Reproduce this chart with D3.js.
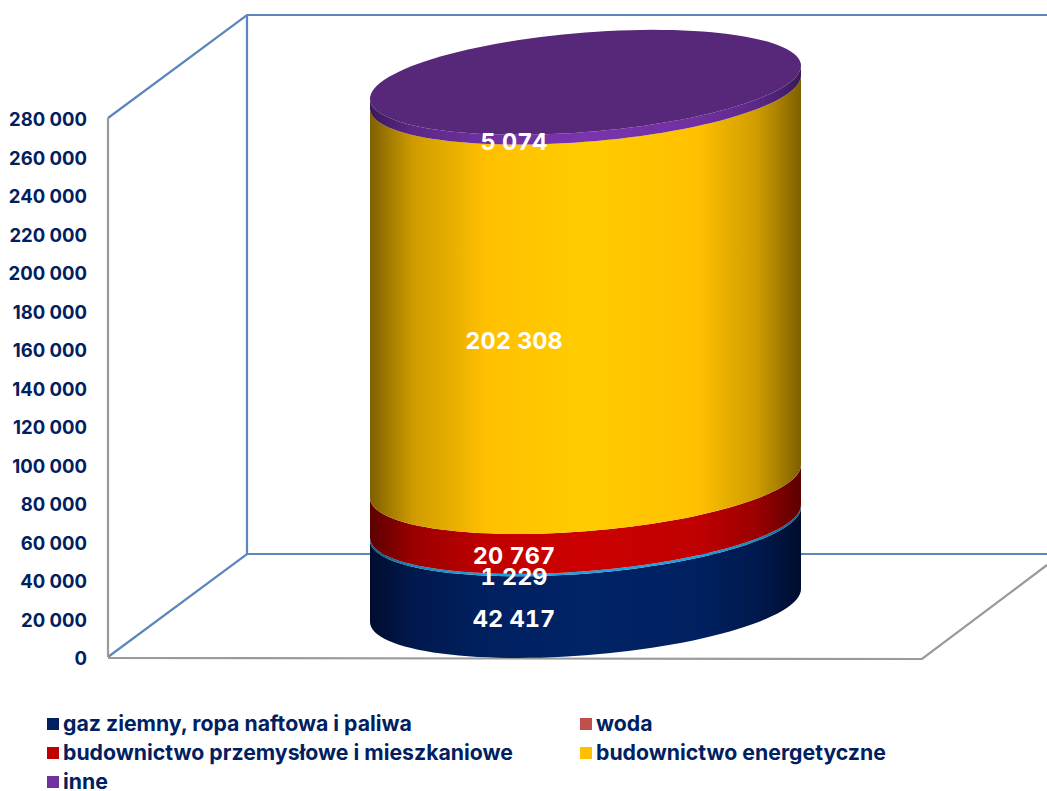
<!DOCTYPE html>
<html lang="pl">
<head>
<meta charset="utf-8">
<title>Struktura zamówień</title>
<script src="https://d3js.org/d3.v7.min.js"></script>
<style>
  body { margin: 0; background: white; }
  svg { display: block; }
  text { font-family: Inter, Lato, sans-serif; font-weight: 700; }
  .tick text { fill: #002060; font-size: 18.5px; }
  .value { fill: white; font-size: 23.5px; text-anchor: middle; font-variant-numeric: tabular-nums; }
  .legend { fill: #002060; font-size: 21.25px; }
  .wall { stroke: #5b87bd; stroke-width: 2.2; fill: none; }
  .floor { stroke: #9a9a9a; stroke-width: 2.2; fill: none; }
</style>
</head>
<body>
<script>
var categories = ["gaz ziemny, ropa naftowa i paliwa", "woda", "budownictwo przemysłowe i mieszkaniowe", "budownictwo energetyczne", "inne"];
var values = [42417, 1229, 20767, 202308, 5074];
var swatches = ["#002060", "#c0504d", "#c00000", "#ffc000", "#7030a0"];
var bandColors = ["#002060", "#1ba1e2", "#c00000", "#ffc000", "#7030a0"];
var bandEdges = ["#000d2e", "#0a5a85", "#5c0000", "#7f6000", "#3a1a58"];
var bandGlows = ["#002466", "#1ba1e2", "#cc0000", "#ffcc00", "#7a34ae"];
var yTicks = d3.range(0, 280001, 20000);

var w = 1047, h = 791;
var y = d3.scaleLinear().domain([0, 280000]).range([657, 118]);

// depth of the 3D box
var depthX = 139, depthY = 103;
var x0 = 108, xFront = 922;

// cylinder footprint: ellipse sheared so that the left side sits lower
var cx = 585.5, rx = 215.5, ry = 49.8, shear = 16.5, lift = 51.5;

var svg = d3.select("body").append("svg").attr("width", w).attr("height", h);
var defs = svg.append("defs");

// walls and floor
var yTop = y(280000), yBottom = y(0);
var wall = svg.append("g");
wall.append("path").attr("class", "wall")
    .attr("d", `M${x0},${yTop}L${x0 + depthX},${yTop - depthY}L${w},${yTop - depthY}`);
wall.append("path").attr("class", "wall")
    .attr("d", `M${x0},${yBottom}L${x0 + depthX},${yBottom - depthY}L${w},${yBottom - depthY}`);
wall.append("line").attr("class", "wall")
    .attr("x1", x0 + depthX).attr("x2", x0 + depthX)
    .attr("y1", yTop - depthY).attr("y2", yBottom - depthY);
wall.append("line").attr("class", "floor")
    .attr("x1", x0).attr("x2", x0)
    .attr("y1", yTop).attr("y2", yBottom);
wall.append("path").attr("class", "floor")
    .attr("d", `M${x0},${yBottom + 1}L${xFront},${yBottom + 2}L${w},${yBottom + 2 - 94}`);

// y axis
var axis = d3.axisLeft(y)
    .tickValues(yTicks)
    .tickSize(0)
    .tickPadding(0)
    .tickFormat(d => d3.format(",")(d).replace(/,/g, " "));
svg.append("g")
    .attr("transform", "translate(87,2)")
    .call(axis)
    .call(g => g.select(".domain").remove());

// stacked values
var stack = [];
values.reduce(function (acc, v, i) {
    stack.push({ name: categories[i], value: v, i: i, from: acc, to: acc + v });
    return acc + v;
}, 0);

// point on the rim at value v, angle t
function rim(v, t) {
    return [cx + rx * Math.cos(t), y(v) - lift - shear * Math.cos(t) + ry * Math.sin(t)];
}

var line = d3.line();
var front = d3.range(0, 61).map(i => i / 60 * Math.PI);

stack.forEach(function (d) {
    var id = "band" + d.i;
    var grad = defs.append("linearGradient").attr("id", id)
        .attr("gradientUnits", "userSpaceOnUse")
        .attr("x1", cx - rx).attr("x2", cx + rx).attr("y1", 0).attr("y2", 0);
    var edge = bandEdges[d.i], base = bandColors[d.i], glow = bandGlows[d.i];
    var shade = d3.interpolateRgb(edge, base);
    [[0, edge], [0.1, shade(0.62)], [0.27, base], [0.5, glow], [0.76, base], [0.9, shade(0.62)], [1, edge]]
        .forEach(s => grad.append("stop").attr("offset", s[0]).attr("stop-color", s[1]));

    var upper = front.map(t => rim(d.to, t));
    var lower = front.map(t => rim(d.from, t)).reverse();
    svg.append("path")
        .attr("d", line(upper.concat(lower)) + "Z")
        .attr("fill", `url(#${id})`);
});

// top of the cylinder
var total = d3.sum(values);
svg.append("path")
    .attr("d", line(d3.range(0, 121).map(i => rim(total, i / 120 * 2 * Math.PI))) + "Z")
    .attr("fill", "#572779");

// value labels
svg.append("g").selectAll("text")
    .data(stack)
    .join("text")
    .attr("class", "value")
    .attr("x", cx - depthX / 2 - 2)
    .attr("y", d => y((d.from + d.to) / 2) + 11)
    .text(d => d3.format(",")(d.value).replace(/,/g, " "));

// legend
var legendX = d3.scaleOrdinal().domain([0, 1]).range([47, 580]);
var legendY = d3.scalePoint().domain([0, 1, 2]).range([724, 782]);
var legend = svg.append("g").selectAll("g")
    .data(categories)
    .join("g")
    .attr("transform", (d, i) => `translate(${legendX(i % 2)},${legendY(Math.floor(i / 2))})`);
legend.append("rect")
    .attr("y", -6).attr("width", 12).attr("height", 12)
    .attr("fill", (d, i) => swatches[i]);
legend.append("text")
    .attr("class", "legend")
    .attr("x", 16).attr("y", 6.5)
    .text(d => d);
</script>
</body>
</html>
